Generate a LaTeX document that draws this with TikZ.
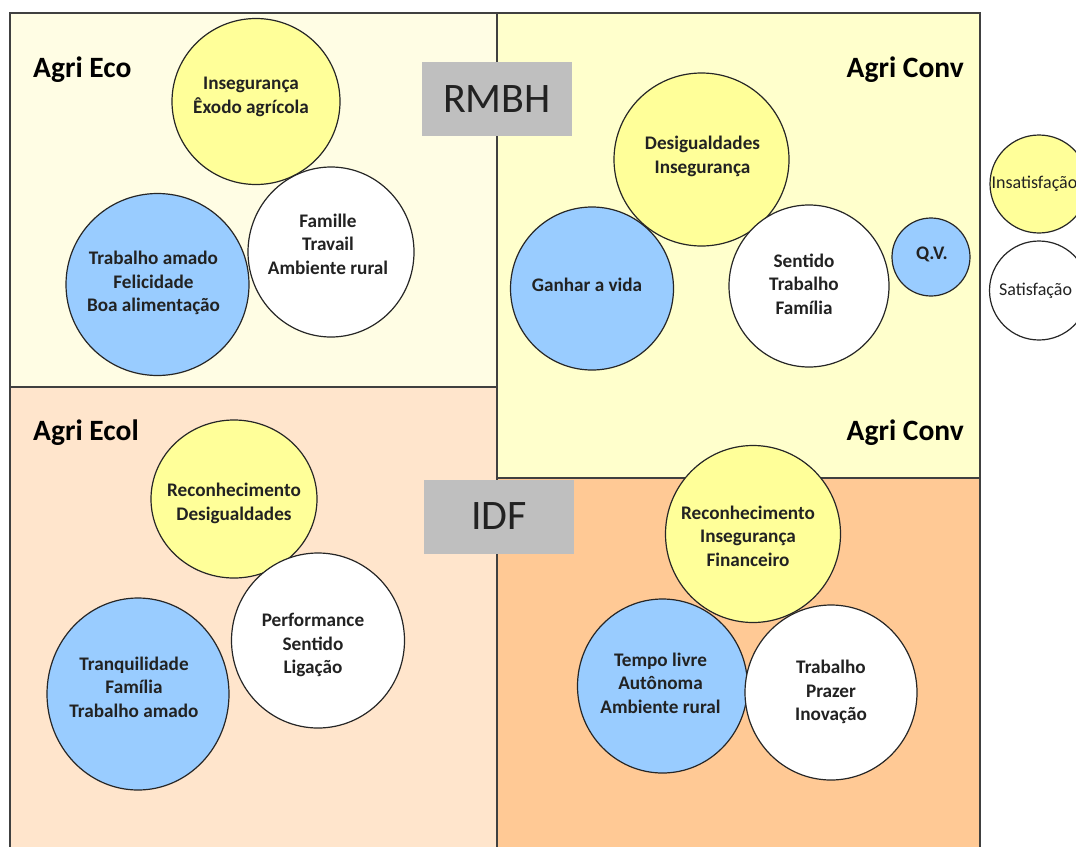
\documentclass[tikz,border=0pt]{standalone}
\usepackage{fontspec}
\setmainfont{Carlito}
\usetikzlibrary{shapes.geometric}

\definecolor{ecofill}{HTML}{FFFDE4}
\definecolor{convfill}{HTML}{FFFFCC}
\definecolor{ecolfill}{HTML}{FFE5CC}
\definecolor{idfconv}{HTML}{FFC995}
\definecolor{bubyel}{HTML}{FFFF99}
\definecolor{bubblue}{HTML}{99CCFF}
\definecolor{regiongray}{HTML}{BFBFBF}
\definecolor{inkdark}{HTML}{222222}

\begin{document}
\begin{tikzpicture}[x=1pt,y=-1pt,
  panel/.style={draw=black!75, line width=1.7pt},
  bubble/.style={ellipse, draw=black!85, line width=1.2pt, inner sep=0pt},
  yel/.style={bubble, fill=bubyel},
  blu/.style={bubble, fill=bubblue},
  wht/.style={bubble, fill=white},
  btext/.style={font=\bfseries\fontsize{19.2}{23.5}\selectfont, align=center, text=inkdark, inner sep=0pt, yshift=-2pt},
  ltext/.style={font=\fontsize{18}{21}\selectfont, text=inkdark, inner sep=0pt},
  quad/.style={font=\bfseries\fontsize{29.5}{34}\selectfont, text=black, inner sep=0pt},
  region/.style={fill=regiongray, text=inkdark, font=\fontsize{42}{48}\selectfont,
    minimum width=150pt, minimum height=74pt, inner sep=0pt}
]
\useasboundingbox (0,0) rectangle (1076,846);

% quadrants
\filldraw[panel, fill=ecofill]  (10,13)   rectangle (497,387);
\filldraw[panel, fill=convfill] (497,13)  rectangle (980,478);
\filldraw[panel, fill=ecolfill] (10,387)  rectangle (497,870);
\filldraw[panel, fill=idfconv]  (497,478) rectangle (980,870);

% region tags
\node[region] (rmbh) at (497,99)  {RMBH};
\node[region] (idf)  at (499,516.5) {IDF};

% quadrant titles
\node[quad, anchor=base west] (tEco)   at (33,77)   {Agri Eco};
\node[quad, anchor=base east] (tConv1) at (964,77)  {Agri Conv};
\node[quad, anchor=base west] (tEcol)  at (33,440)  {Agri Ecol};
\node[quad, anchor=base east] (tConv2) at (964,440) {Agri Conv};

% RMBH - Agri Eco
\node[yel, minimum width=168pt, minimum height=166pt] (ecoY) at (256,101.5) {};
\node[wht, minimum width=166pt, minimum height=170pt] (ecoW) at (331,252) {};
\node[blu, minimum width=183pt, minimum height=182pt] (ecoB) at (157.5,284.5) {};
\node[btext] (ecoYt) at ([shift={(-5,-6.5)}]ecoY.center) {Insegurança\\Êxodo agrícola};
\node[btext] (ecoWt) at ([shift={(-3,-10)}]ecoW.center) {Famille\\Travail\\Ambiente rural};
\node[btext] (ecoBt) at ([shift={(-4,-3.5)}]ecoB.center) {Trabalho amado\\Felicidade\\Boa alimentação};

% RMBH - Agri Conv
\node[yel, minimum width=175pt, minimum height=173pt] (convY) at (701.5,159.5) {};
\node[blu, minimum width=163pt, minimum height=163pt] (convB) at (592,288.5) {};
\node[wht, minimum width=160pt, minimum height=162pt] (convW) at (809,286) {};
\node[blu, minimum width=78pt, minimum height=78pt] (convQ) at (931,257) {};
\node[btext] (convYt) at ([shift={(1,-5)}]convY.center) {Desigualdades\\Insegurança};
\node[btext] (convBt) at ([shift={(-5,-5.5)}]convB.center) {Ganhar a vida};
\node[btext] (convWt) at ([shift={(-5,-4)}]convW.center) {Sentido\\Trabalho\\Família};
\node[btext] (convQt) at ([shift={(1,-5)}]convQ.center) {Q.V.};

% IDF - Agri Ecol
\node[yel, minimum width=166pt, minimum height=158pt] (ecolY) at (234,499) {};
\node[wht, minimum width=173pt, minimum height=175pt] (ecolW) at (318,640.5) {};
\node[blu, minimum width=182pt, minimum height=192pt] (ecolB) at (138,694) {};
\node[btext] (ecolYt) at ([shift={(0,2.5)}]ecolY.center) {Reconhecimento\\Desigualdades};
\node[btext] (ecolWt) at ([shift={(-5,2.5)}]ecolW.center) {Performance\\Sentido\\Ligação};
\node[btext] (ecolBt) at ([shift={(-4,-9)}]ecolB.center) {Tranquilidade\\Família\\Trabalho amado};

% IDF - Agri Conv
\node[yel, minimum width=175pt, minimum height=177pt] (idfY) at (753,534) {};
\node[blu, minimum width=170pt, minimum height=174pt] (idfB) at (662.5,686) {};
\node[wht, minimum width=172pt, minimum height=175pt] (idfW) at (831,692.5) {};
\node[btext] (idfYt) at ([shift={(-5,0)}]idfY.center) {Reconhecimento\\Insegurança\\Financeiro};
\node[btext] (idfBt) at ([shift={(-2,-5)}]idfB.center) {Tempo livre\\Autônoma\\Ambiente rural};
\node[btext] (idfWt) at ([shift={(0,-2.5)}]idfW.center) {Trabalho\\Prazer\\Inovação};

% legend
\node[yel, minimum width=98pt, minimum height=98pt] (legY) at (1039,184) {};
\node[wht, minimum width=99pt, minimum height=99pt] (legW) at (1039,290.5) {};
\node[ltext, anchor=west] (legYt) at ([xshift=2pt]legY.west) {Insatisfação};
\node[ltext, anchor=west] (legWt) at ([xshift=10pt]legW.west) {Satisfação};
\end{tikzpicture}
\end{document}
